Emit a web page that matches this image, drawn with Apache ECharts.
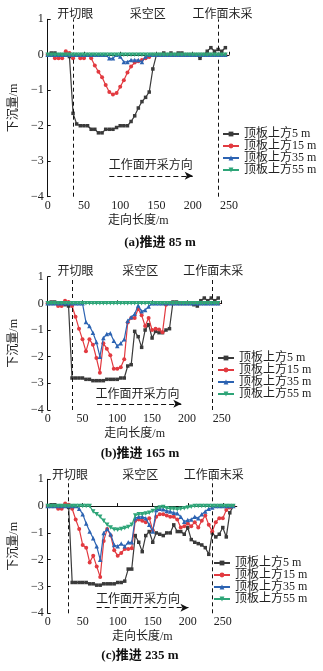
<!DOCTYPE html>
<html>
<head>
<meta charset="utf-8">
<script src="https://cdn.jsdelivr.net/npm/echarts@6/dist/echarts.min.js"></script>
<style>
  html, body { margin: 0; padding: 0; background: #fff; }
  #chart { width: 323px; height: 671px; }
</style>
</head>
<body>
<div id="chart"></div>
<script>
// Distance along strike (m)
const dist85 = [0,5,10,15,20,25,30,35,40,45,50,55,60,65,70,75,80,85,90,95,100,105,110,115,120,125,130,135,140,145,150,155,160,165,170,175,180,185,190,195,200,205,210,215,220,225,230,235,240,245];
const dist165 = [0,5,10,15,20,25,30,35,40,45,50,55,60,65,70,75,80,85,90,95,100,105,110,115,120,125,130,135,140,145,150,155,160,165,170,175,180,185,190,195,200,205,210,215,220,225,230,235,240,245];
const dist235 = [0,5,10,15,20,25,30,35,40,45,50,55,60,65,70,75,80,85,90,95,100,105,110,115,120,125,130,135,140,145,150,155,160,165,170,175,180,185,190,195,200,205,210,215,220,225,230,235,240,245,250,255,260,265];

// Subsidence (m), face advanced 85 m
const adv85_5m  = [0,0.05,0.05,0,0,0,-0.05,-1.65,-1.95,-2.0,-2.0,-2.0,-2.1,-2.1,-2.2,-2.2,-2.1,-2.1,-2.1,-2.05,-2.0,-2.0,-2.0,-1.88,-1.72,-1.5,-1.32,-1.2,-1.05,-0.4,0,0,0.05,0,0.05,0,0.05,0.05,0,0,0,0,-0.1,0,0.1,0.2,0.1,0.15,0.1,0.2];
const adv85_15m = [0,0,-0.1,-0.1,-0.1,0.1,0.05,-0.1,0,-0.1,-0.1,0,-0.1,-0.3,-0.48,-0.63,-0.85,-1.05,-1.12,-1.08,-0.9,-0.72,-0.5,-0.33,-0.22,-0.18,-0.15,-0.1,-0.06,0,0,0,0,0,0,0,0,0,0,0,0,0,0,0,0,0,0,0,0,0];
const adv85_35m = [0,0,0,0,0,0,0,0,0,0,0,0,0,0,0,0,0,-0.1,-0.1,0,-0.05,-0.2,-0.2,-0.15,-0.15,-0.15,-0.2,-0.05,0,0,0,0,0,0,0,0,0,0,0,0,0,0,0,0,0,0,0,0,0,0];
const adv85_55m = [0,0,0,0,0,0,0,0,0,0,0,0,0,0,0,0,0,0,0,0,0,0,0,0,0,0,0,0,0,0,0,0,0,0,0,0,0,0,0,0,0,0,0,0,0,0,0,0,0,0];

// Subsidence (m), face advanced 165 m
const adv165_5m  = [0,0.05,0.05,0,0,-0.05,-0.1,-2.8,-2.8,-2.8,-2.8,-2.85,-2.85,-2.9,-2.9,-2.9,-2.9,-2.85,-2.85,-2.85,-2.85,-2.8,-2.8,-2.35,-2.3,-1.05,-1.25,-1.65,-1.0,-0.8,-1.3,-1.05,-1.1,-1.1,-1.0,-0.95,0.05,0.05,0,0,0,0,-0.05,-0.1,0.1,0.2,0.1,0.2,0.1,0.2];
const adv165_15m = [0,0,0,-0.1,-0.1,0.1,0.05,-0.1,-0.5,-0.95,-1.35,-1.8,-1.35,-1.55,-2.05,-2.6,-1.5,-1.7,-1.95,-2.45,-2.45,-2.4,-2.1,-0.72,-0.55,-0.55,-0.2,-0.45,-0.85,-0.55,-1.0,-0.95,-0.98,-1.08,-0.05,0,0,0,0,0,0,0,0,0,0,0,0,0,0,0];
const adv165_35m = [0,0,0,0,0,0,0,0,0,0,0,-0.7,-0.85,-1.1,-1.45,-2.0,-1.3,-1.15,-1.12,-1.4,-1.6,-1.5,-1.35,-0.65,-0.52,-0.4,-0.08,-0.3,-0.25,-0.12,0,0,0,0,0,0,0,0,0,0,0,0,0,0,0,0,0,0,0,0];
const adv165_55m = [0,0,0,0,0,0,0,0,0,0,0,0,0,0,0,0,0,0,0,0,0,0,0,0,0,0,0,0,0,0,0,0,0,0,0,0,0,0,0,0,0,0,0,0,0,0,0,0,0,0];

// Subsidence (m), face advanced 235 m
const adv235_5m  = [0,0.05,0.05,0,0,0,-0.05,-2.85,-2.85,-2.85,-2.85,-2.85,-2.9,-2.9,-2.95,-2.95,-2.9,-2.9,-2.9,-2.9,-2.85,-2.85,-2.8,-2.35,-2.35,-1.1,-1.35,-1.7,-1.1,-0.95,-1.35,-1.0,-1.05,-1.1,-1.0,-1.0,-0.7,-0.95,-0.95,-1.05,-0.8,-1.25,-1.35,-1.4,-1.45,-1.55,-1.8,-1.0,-1.15,-1.05,-0.8,-1.15,-0.25,0];
const adv235_15m = [0,0,0,-0.1,-0.1,0.1,0.05,-0.1,-0.5,-0.85,-1.45,-1.55,-2.1,-1.85,-2.25,-2.65,-1.3,-0.85,-1.1,-1.65,-1.85,-1.75,-1.6,-1.6,-1.57,-0.55,-0.5,-0.55,-0.6,-0.45,-0.9,-0.4,-0.3,-0.3,-0.35,-0.4,-0.4,-0.5,-0.8,-0.75,-0.65,-0.75,-0.6,-0.8,-0.55,-0.35,-0.7,-0.95,-0.6,-0.45,-0.45,-0.15,-0.05,0];
const adv235_35m = [0,0,0,0,0,0,0,0,0,-0.1,-0.3,-0.65,-0.95,-1.2,-1.5,-2.0,-1.0,-0.85,-1.05,-1.45,-1.5,-1.4,-1.5,-1.35,-1.35,-0.45,-0.4,-0.4,-0.45,-0.7,-0.95,-0.15,-0.1,-0.12,-0.18,-0.2,-0.25,-0.27,-0.4,-0.58,-0.52,-0.5,-0.4,-0.45,-0.3,-0.2,-0.1,-0.05,0,0,0,0,0,0];
const adv235_55m = [0,0,0,0,0,0,0,0,0,0,0,0,0,-0.2,-0.3,-0.4,-0.55,-0.7,-0.8,-0.87,-0.88,-0.85,-0.82,-0.78,-0.7,-0.35,-0.3,-0.3,-0.28,-0.25,-0.18,-0.1,-0.05,-0.03,-0.08,-0.1,-0.1,-0.12,-0.1,-0.08,-0.05,-0.02,0,0,0,0,0,0,0,0,0,0,0,0];

// Labels
const seriesNames = ['顶板上方5 m', '顶板上方15 m', '顶板上方35 m', '顶板上方55 m'];
const xTickLabels = [0, 50, 100, 150, 200, 250];
const captions = ['(a)推进 85 m', '(b)推进 165 m', '(c)推进 235 m'];

// Styling
const FONT = '"Liberation Serif", "Noto Sans CJK SC", serif';
const colors = ['#3a3a3a', '#e23a40', '#2c63b2', '#2ea578'];
const symbols = ['rect', 'circle', 'triangle', 'triangle'];
const symbolRotations = [0, 0, 0, 180];
const symbolSizes = [3.5, 4, 4.5, 4.5];

const panels = [
  {
    dist: dist85, values: [adv85_5m, adv85_15m, adv85_35m, adv85_55m],
    grid: { left: 41, top: 19.3, width: 188, height: 177.4 }, xMax: 250,
    cutLine: 35, endLine: 235,
    notes: [
      { text: '开切眼', x: 38, y: 1.12 }, { text: '采空区', x: 138, y: 1.12 },
      { text: '工作面末采', x: 241, y: 1.12 }, { text: '工作面开采方向', x: 142, y: -3.13 }
    ],
    arrow: { from: 85, to: 200, y: -3.41 },
    legend: { left: 222, top: 128, rowHeight: 12 },
    caption: { x: 160, y: 243 }
  },
  {
    dist: dist165, values: [adv165_5m, adv165_15m, adv165_35m, adv165_55m],
    grid: { left: 42.3, top: 276.7, width: 179.4, height: 133.3 }, xMax: 250,
    cutLine: 36, endLine: 237,
    notes: [
      { text: '开切眼', x: 40, y: 1.19 }, { text: '采空区', x: 133, y: 1.19 },
      { text: '工作面末采', x: 238, y: 1.19 }, { text: '工作面开采方向', x: 129, y: -3.44 }
    ],
    arrow: { from: 71, to: 192, y: -3.77 },
    legend: { left: 217, top: 352, rowHeight: 11.3 },
    caption: { x: 140, y: 454 }
  },
  {
    dist: dist235, values: [adv235_5m, adv235_15m, adv235_35m, adv235_55m],
    grid: { left: 41.7, top: 479.3, width: 195.1, height: 134 }, xMax: 270,
    cutLine: 30, endLine: 235,
    notes: [
      { text: '开切眼', x: 32, y: 1.12 }, { text: '采空区', x: 132, y: 1.12 },
      { text: '工作面末采', x: 237, y: 1.12 }, { text: '工作面开采方向', x: 129, y: -3.5 }
    ],
    arrow: { from: 70, to: 201, y: -3.79 },
    legend: { left: 213, top: 557, rowHeight: 11.3 },
    caption: { x: 140, y: 656 }
  }
];

const axisLineStyle = { color: '#111', width: 1 };
const minus = v => String(v).replace('-', '\u2212');
const dashed = { color: '#111', width: 1, type: [4, 3] };

const option = {
  animation: false,
  backgroundColor: '#fff',
  textStyle: { fontFamily: FONT },
  grid: panels.map(p => Object.assign({ containLabel: false }, p.grid)),
  xAxis: panels.map((p, i) => ({
    type: 'value', gridIndex: i, min: 0, max: p.xMax, interval: 50,
    axisLine: { show: true, lineStyle: axisLineStyle },
    axisTick: { show: true, inside: true, length: 3, lineStyle: axisLineStyle, customValues: xTickLabels },
    axisLabel: { color: '#222', fontSize: 12, fontFamily: FONT, margin: 3, customValues: xTickLabels },
    splitLine: { show: false },
    name: '走向长度/m', nameLocation: 'middle', nameGap: 18,
    nameTextStyle: { color: '#222', fontSize: 12, fontFamily: FONT }
  })),
  yAxis: panels.map((p, i) => ({
    type: 'value', gridIndex: i, min: -4, max: 1, interval: 1,
    axisLine: { show: true, lineStyle: axisLineStyle },
    axisTick: { show: true, inside: true, length: 3, lineStyle: axisLineStyle },
    axisLabel: { color: '#222', fontSize: 12, fontFamily: FONT, margin: 4, formatter: minus },
    splitLine: { show: false },
    name: '下沉量/m', nameLocation: 'middle', nameGap: 18,
    nameTextStyle: { color: '#222', fontSize: 12, fontFamily: FONT }
  })),
  legend: panels.map(p => ({
    data: seriesNames, orient: 'vertical', left: p.legend.left, top: p.legend.top,
    itemWidth: 16, itemHeight: 6, itemGap: 0, padding: 0,
    textStyle: { color: '#222', fontSize: 12, lineHeight: p.legend.rowHeight, fontFamily: FONT, padding: [0, 0, 0, 0] }
  })),
  series: []
};

panels.forEach((p, i) => {
  p.values.forEach((vals, k) => {
    option.series.push({
      type: 'line', name: seriesNames[k], xAxisIndex: i, yAxisIndex: i,
      data: p.dist.map((d, j) => [d, vals[j]]),
      symbol: symbols[k], symbolSize: symbolSizes[k], symbolRotate: symbolRotations[k],
      showAllSymbol: true,
      lineStyle: { color: colors[k], width: 1.2 },
      itemStyle: { color: colors[k] },
      z: 3 + k
    });
  });
  // guide lines: open-off cut, final face position and mining direction arrow
  option.series.push({
    type: 'line', xAxisIndex: i, yAxisIndex: i, data: [], silent: true, z: 10,
    markLine: {
      silent: true, animation: false, label: { show: false },
      data: [
        [{ coord: [p.cutLine, -4], symbol: 'none' }, { coord: [p.cutLine, 1], symbol: 'none', lineStyle: dashed }],
        [{ coord: [p.endLine, -4], symbol: 'none' }, { coord: [p.endLine, 1], symbol: 'none', lineStyle: dashed }],
        [{ coord: [p.arrow.from, p.arrow.y], symbol: 'none' }, { coord: [p.arrow.to, p.arrow.y], symbol: 'arrow', symbolSize: [6, 8], lineStyle: { color: '#111', width: 1.2, type: [5, 3] } }]
      ],
      lineStyle: dashed
    }
  });
});

const chart = echarts.init(document.getElementById('chart'), null, { renderer: 'canvas' });
chart.setOption(option);

// annotation texts placed in data space of each panel
const graphics = [];
panels.forEach((p, i) => {
  p.notes.forEach(n => {
    const pt = chart.convertToPixel({ gridIndex: i }, [n.x, n.y]);
    graphics.push({
      type: 'text', x: pt[0], y: pt[1], z: 20,
      style: { text: n.text, fill: '#222', font: '12px ' + FONT, align: 'center', verticalAlign: 'middle' }
    });
  });
  graphics.push({
    type: 'text', x: p.caption.x, y: p.caption.y, z: 20,
    style: { text: captions[i], fill: '#111', font: 'bold 13px ' + FONT, align: 'center', verticalAlign: 'middle' }
  });
});
chart.setOption({ graphic: graphics });
</script>
</body>
</html>
